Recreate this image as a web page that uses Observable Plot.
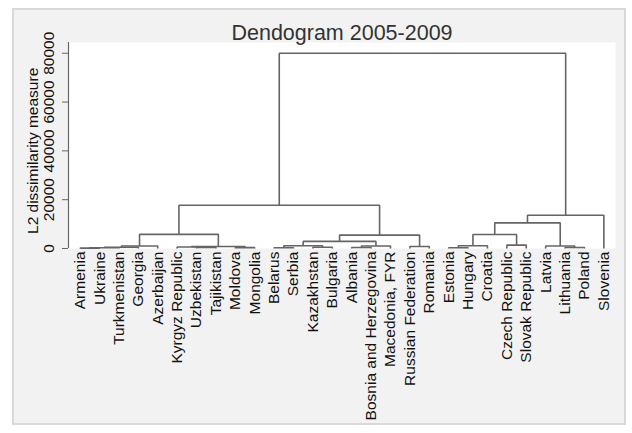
<!DOCTYPE html>
<html><head><meta charset="utf-8">
<script src="https://cdn.jsdelivr.net/npm/d3@7"></script>
<script src="https://cdn.jsdelivr.net/npm/@observablehq/plot@0.6"></script>
<style>
html,body{margin:0;padding:0;background:#fff;}
#wrap{position:relative;width:632px;height:433px;overflow:hidden;}
#bg{position:absolute;left:12px;top:8px;width:614px;height:417px;box-sizing:border-box;background:#f2f2f2;border:2px solid #d9d9d9;}
#chart{position:absolute;left:0;top:0;}
</style></head><body>
<div id="wrap"><div id="bg"></div><div id="chart"></div></div>
<script>
const title = "Dendogram 2005-2009";
const yLabel = "L2 dissimilarity measure";
const yTicks = [0, 20000, 40000, 60000, 80000];
const leaves = ["Armenia","Ukraine","Turkmenistan","Georgia","Azerbaijan","Kyrgyz Republic","Uzbekistan","Tajikistan","Moldova","Mongolia","Belarus","Serbia","Kazakhstan","Bulgaria","Albania","Bosnia and Herzegovina","Macedonia, FYR","Russian Federation","Romania","Estonia","Hungary","Croatia","Czech Republic","Slovak Republic","Latvia","Lithuania","Poland","Slovenia"];
// [cluster id, left child, right child, dissimilarity at join]
const joins = [
  ["c1","Armenia","Ukraine",150],
  ["c2","c1","Turkmenistan",300],
  ["c3","c2","Georgia",500],
  ["c4","c3","Azerbaijan",1000],
  ["c5","Uzbekistan","Tajikistan",400],
  ["c6","Kyrgyz Republic","c5",600],
  ["c7","Moldova","Mongolia",350],
  ["c8","c6","c7",800],
  ["c9","c4","c8",5800],
  ["c10","Belarus","Serbia",300],
  ["c11","Kazakhstan","Bulgaria",500],
  ["c12","c10","c11",1100],
  ["c13","Albania","Bosnia and Herzegovina",400],
  ["c14","c13","Macedonia, FYR",1000],
  ["c15","c12","c14",2900],
  ["c16","Russian Federation","Romania",800],
  ["c17","c15","c16",5500],
  ["c18","c9","c17",17700],
  ["c19","Estonia","Hungary",300],
  ["c20","c19","Croatia",1100],
  ["c21","Czech Republic","Slovak Republic",1400],
  ["c22","c20","c21",5750],
  ["c23","Lithuania","Poland",400],
  ["c24","Latvia","c23",1000],
  ["c25","c22","c24",10500],
  ["c26","c25","Slovenia",13600],
  ["c27","c18","c26",80000]
];

const pos = new Map(leaves.map((d, i) => [d, {x: i, h: 0}]));
const segs = [];
joins.forEach(([id, l, r, h], k) => {
  const L = pos.get(l), R = pos.get(r);
  segs.push({k, x: L.x, y: L.h}, {k, x: L.x, y: h}, {k, x: R.x, y: h}, {k, x: R.x, y: R.h});
  pos.set(id, {x: (L.x + R.x) / 2, h});
});

const font = "Liberation Sans, Arial, Helvetica, sans-serif";
const plot = Plot.plot({
  width: 632, height: 433,
  marginLeft: 68, marginRight: 17, marginTop: 42, marginBottom: 185,
  x: {domain: [-0.6, leaves.length - 0.4], axis: null},
  y: {domain: [0, 84400]},
  style: {background: "transparent", fontFamily: font, color: "#111", overflow: "visible"},
  marks: [
    Plot.frame({fill: "white", stroke: null}),
    Plot.ruleX([-0.6], {stroke: "#666", strokeWidth: 1.2}),
    Plot.axisY(yTicks, {tickSize: 6, tickRotate: -90, tickPadding: 8.5, tickFormat: d => String(d), fontSize: 15.5, stroke: "#666", fill: "#111", label: null}),
    Plot.line(segs, {x: "x", y: "y", z: "k", stroke: "#656565", strokeWidth: 1.6, strokeLinejoin: "miter", strokeLinecap: "butt"}),
    Plot.text(leaves, {x: (d, i) => i, y: () => 0, text: d => d, rotate: -90, textAnchor: "end", dy: 3, fontSize: 15.5, fill: "#111"}),
    Plot.text([title], {frameAnchor: "top", text: d => d, dy: -3, fontSize: 21.5, fill: "#333", lineAnchor: "bottom"}),
    Plot.text([yLabel], {y: () => 40000, text: d => d, frameAnchor: "left", textAnchor: "middle", dx: -31, rotate: -90, lineAnchor: "bottom", fontSize: 15.5, fill: "#111"})
  ]
});
document.getElementById("chart").appendChild(plot);
</script>
</body></html>
